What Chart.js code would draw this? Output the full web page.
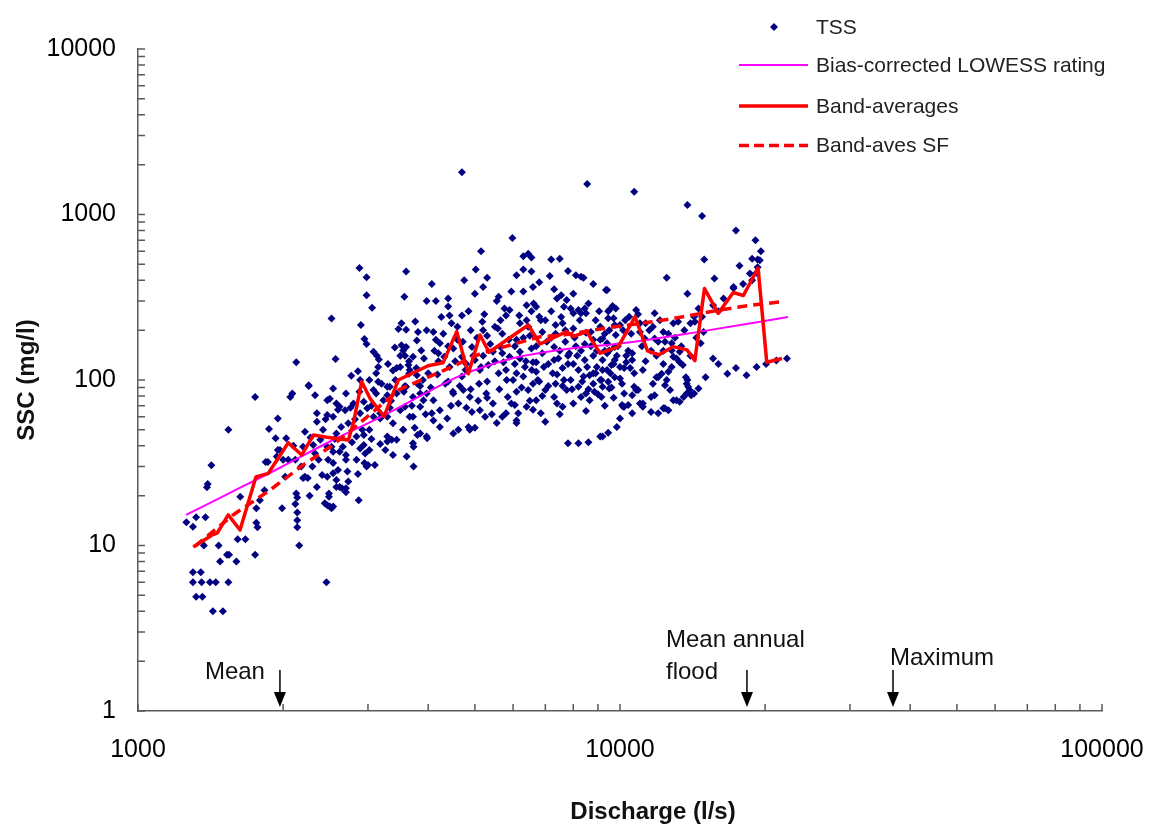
<!DOCTYPE html>
<html>
<head>
<meta charset="utf-8">
<title>SSC rating</title>
<script src="https://cdn.jsdelivr.net/npm/chart.js@4.4.1/dist/chart.umd.min.js"></script>
<style>
  html, body { margin: 0; padding: 0; background: #ffffff; }
  #wrap { width: 1152px; height: 826px; }
</style>
</head>
<body>
<div id="wrap"><canvas id="chart" width="1152" height="826"></canvas></div>
<script>
// TSS samples [discharge l/s, SSC mg/l]
const tssPoints = [
  [1750,79],[1540,50],[1420,30.5],[1390,22.5],[1395,23.5],[1260,13.8],[1300,13],[1320,14.8],[1380,14.8],[1370,10],
  [1470,10],[1530,8.8],[1545,8.8],[1480,8],[1600,8],[1300,6.9],[1350,6.9],[1300,6],[1355,6],[1410,6],
  [1450,6],[1540,6],[1320,4.9],[1360,4.9],[1430,4],[1500,4],[1610,10.9],[1670,10.9],[1750,8.8],[1630,19.7],
  [1760,16.8],[1770,12.9],[1760,13.7],[1790,18.8],[1830,21.6],[1840,32],[1870,50.5],[1930,44.5],[1950,58.5],[1950,37.7],
  [1990,16.8],[2020,26],[2050,33],[2070,79],[2090,83],[2120,17.8],[2140,15.8],[2140,14.2],[2140,12.9],[2160,10],
  [2140,19.5],[2200,25.6],[2200,39.5],[2220,48.6],[2250,25.6],[2270,20],[2260,93],[2330,81],[2350,63],[2370,33],
  [2350,22.6],[2410,26.7],[2460,6],[2440,18],[2490,20.6],[2500,17.2],[2520,16.8],[2500,77],[2520,39.5],[2540,31.5],
  [2580,24.9],[2600,28.6],[2620,22.6],[2650,22.2],[2700,22.2],[2730,24.4],[2870,18.8],[2690,65.7],[2730,54.8],[2580,47.5],
  [2660,39.5],[2700,33],[2840,45.5],[2940,40.5],[3020,37.7],[2950,31.5],[3000,30.6],[2890,38.6],[3020,50],[3120,83],
  [3230,75.5],[3330,91],[3380,54.8],[3500,65.7],[3550,50],[3660,60],[3750,51.5],[3730,39.5],[3800,46.5],[3980,44.5],
  [3910,75.5],[3850,83],[3080,60],[3180,63],[3260,37.7],[3290,42.5],[3440,43.5],[3610,34.5],[3730,30],[2940,74],
  [2890,63],[2990,67.5],[3440,83],[3580,92],
  [2880,475],[2980,418],[3600,453],[2980,325],[3570,318],[3060,273],[2520,235],[2900,215],[3520,220],[3760,226],
  [3470,203],[3600,201],[3810,195],[2950,177],[2980,165],[3790,173],[3410,157],[3520,162],[3550,151],[3080,148],
  [3130,140],[3160,133],[3580,140],[3640,123],[3660,115],[3440,118],[3380,114],[2130,128],[2570,134],[2860,113],
  [2770,106],[2260,92],[2540,89],[3020,100],[2890,100],[3290,91],[3790,107],
  [2700,83],[2470,75.5],[2580,72],[2800,72],[2030,44.5],[1970,37.7],[1860,32],[1940,34.5],[2000,33],[2120,33],
  [2350,56],[2470,61.5],[2540,60],[2620,69],[2310,40.5],[2390,43.5],[2470,39.5],[2540,36.8],[2620,36.8],[2700,35.2],
  [2840,33],[2980,30],[3100,30.6],[2220,26],[2470,26],[2540,27.3],[2580,22.6],[2490,19.7],[2540,17.2],[2470,17.5],
  [2700,21],[2130,20.6],[3380,35.2],[3290,45.5],[3360,43.5],[3180,41],[2940,46.5],[3180,58.5],[3290,60],[3290,81],
  [3080,87],[3150,97.5],
  [4300,190],[4600,175],[4900,200],[5300,185],[5700,190],[6100,175],[6500,185],[6900,195],[7200,180],[7700,170],
  [8100,160],[8700,160],[9300,150],[4400,98],[4700,105],[5100,95],[5600,110],[6000,100],[6300,105],[6800,98],
  [7400,108],[7900,100],[8400,105],[8900,110],[9600,90],[4200,130],[4800,125],[5200,140],[5800,115],[6200,135],
  [6700,128],[7300,132],[7800,140],[8300,150],[8800,140],[9400,145],[4000,110],[4500,85],[5300,78],[6100,85],
  [6900,80],[7600,92],[8600,88],[9300,70],[4800,68],[5700,60],[6600,66],[7500,62],[8500,65],[3900,100],
  [4070,380],[4750,400],[5200,365],[6800,390],[8800,380],[9400,350],[3970,300],[4150,300],[4400,311],[4400,278],
  [5000,332],[5550,300],[5600,318],[5950,342],[6300,342],[6600,365],[7300,354],[7550,325],[7750,304],[8000,332],
  [8200,265],[6400,283],[6700,277],[7400,311],[7650,277],[8450,270],[8000,253],[8300,253],[8500,253],[9500,265],
  [9100,210],[9450,236],[9750,215],[4100,195],[3970,200],[4150,175],[4430,245],[4470,220],[4700,245],[5180,225],
  [5200,200],[5500,210],[5650,230],[5800,245],[5900,265],[6200,220],[6400,230],[6550,260],[6800,241],[7000,230],
  [7350,215],[7600,220],[8000,205],[8500,193],[8800,175],[9200,178],[9500,200],[9800,187],[3870,151],[3720,138],
  [3600,158],[3500,120],[3650,109],[4230,167],[4200,145],[4320,138],[4430,120],[4510,155],[4700,138],[4930,158],
  [5000,132],[5120,115],[5330,123],[5450,148],[5650,158],[5730,128],[5900,138],[6050,125],[6200,148],[6350,120],
  [6550,155],[6600,128],[6700,112],[6900,145],[7100,125],[7300,158],[7450,135],[7600,118],[7850,145],[8000,125],
  [8200,115],[8450,132],[8650,107],[8950,120],[9200,132],[9400,115],[9700,125],[9850,140],[9100,100],[9450,97.5],
  [9750,104],[3600,91],[3800,95],[3720,79],[3580,69],[3850,69],[3970,83],[4100,75.5],[4070,63],[4230,65.7],
  [4380,58.5],[4510,83],[4620,72],[4730,87],[4880,79],[4930,64],[4850,52],[5120,65.7],[5250,60],[5280,83],
  [5450,72],[5550,55],[5800,63],[5850,79],[6050,70.5],[6150,63],[6100,57],[6400,69],[6450,87],[6600,95],
  [6700,75.5],[6850,63],[7000,87],[7300,79],[7350,95],[7600,69],[7750,87],[8000,72],[8200,91],[8300,79],
  [8500,83],[8800,95],[8850,85],[9500,89],[9700,78],[9150,79],[4230,52],[4620,50],[5000,51.5],[6100,55],
  [7000,56],[8650,75.5],[3720,60],[4100,57],[3850,47.5],[3550,50],[3970,45.5],[4510,47.5],[3720,41.5],[4880,50],
  [7800,41.5],[8200,41.5],[8600,42],[9100,45.5],[9450,48],[9850,52],
  [10000,58.5],[10150,69],[10400,70.5],[10900,87],[11150,72],[11700,95],[11900,104],[12600,65.7],
  [9350,350],[9450,260],[9800,270],[9700,236],[10000,215],[10150,200],[10450,241],[10800,265],[11000,220],[11300,220],
  [11800,253],[11700,210],[12300,195],[12900,220],[13200,225],[13800,332],[14000,220],[14300,225],[14800,241],[14900,195],
  [14700,167],[9100,175],[9400,167],[9500,151],[9750,158],[10300,140],[10600,145],[11000,195],[11250,178],[11800,178],
  [12000,170],[12400,170],[12800,167],[12800,151],[12900,138],[13100,135],[13300,128],[13500,123],[13300,148],[12300,125],
  [9200,115],[9150,100],[9200,91],[9600,123],[9750,132],[10000,120],[10300,128],[10600,132],[10200,118],[10500,118],
  [10000,102],[11150,115],[12200,109],[12600,112],[12500,100],[12400,93],[12700,87],[11800,81],[11600,79],[10800,87],
  [10600,81],[10200,83],[10100,70.5],[10200,69],[11000,72],[11150,69],[10600,63],[12000,63],[12400,67.5],[12900,75.5],
  [13300,74],[13700,104],[13800,100],[13750,95],[13850,91],[13950,87],[13750,83],[14050,81],[14250,83],[14550,89],
  [13550,79],[15050,104],[15600,135],[16000,125],[16700,109],[17400,118],[18300,107],[19200,120],[20100,125],[21100,131],
  [22200,135],[15600,283],[16000,260],[16400,311],[17200,358],[18000,380],[18800,400],[14550,270],[14250,241],[9200,45.5],
  [10700,91],[12000,104],[12300,67.5],[11600,64],[13100,75.5],
  [4700,1800],[8550,1530],[5980,720],[5150,600],[6300,560],[6450,580],[6550,550],[5020,465],[5300,415],[6100,430],
  [6300,465],[6550,453],[7200,535],[7500,540],[7150,425],[7800,455],[8100,430],[8300,420],[8400,415],[10700,1370],
  [13800,1140],[14800,980],[17400,800],[19100,700],[19600,600],[18800,540],[19300,535],[19500,530],[14950,535],[17700,490],
  [19300,480],[12500,415],[15700,410],[18600,440],[19200,445],[17200,365],
  [3050,70],[3120,110],[3200,95],[3300,125],[3350,75],[3420,100],[3500,140],[3560,85],[3650,130],[3700,70],
  [3780,118],[3850,92],[3920,135],[3950,62],[3330,68],[3150,120],
  [4050,90],[4120,150],[4180,108],[4260,240],[4340,95],[4400,160],[4460,70],[4550,130],[4600,210],[4650,92],
  [4720,170],[4780,115],[4850,260],[4900,88],[4960,140],[5050,180],[5080,75],[5150,120],[5230,250],[5300,98],
  [5380,165],[5420,62],[5500,130],[5580,205],[5620,88],[5700,145],[5760,270],[5820,100],[5880,175],[5950,72],
  [6050,160],[6100,110],[6180,245],[6250,90],[6300,180],[6380,130],[6450,210],[6500,75],[6560,115],[6620,290],
  [6700,160],[6750,100],[6850,230],[6950,120],[7050,170],[7100,92],[7200,260],[7250,110],[7350,190],[7400,72],
  [7500,150],[7550,240],[7650,100],[7700,200],[7800,125],[7900,270],[7950,88],[8050,180],[8150,140],[8250,230],
  [8350,98],[8450,165],[8550,120],[8600,290],[8700,195],[8800,110],[8900,230],[8950,150],[9000,82],[9050,260],
  [9300,190],[9550,110],[9650,280],[9900,160],[10100,95],[10250,230],[10400,150],[10550,190],[10700,110],[10900,250],
  [11100,160],[11300,130],[11500,200],[11600,150],[11900,140],[12100,230],[12300,150],[12600,190],[12800,120],[13000,180],
  [13400,160],[13600,200],[14000,140],[14400,180],
  [2100,40],[2180,30],[2280,45],[2330,36],[2420,50],[2480,33],[2560,44],[2640,52],[2720,28],[2780,42],
  [2820,58],[2860,27],[2920,50],[2960,36],[3050,44],[2600,66],[2760,68],[2880,85],[2450,58],[2300,30]
];

// Bias-corrected LOWESS rating
const lowessQ = [1258, 1552, 1970, 2502, 3177, 4035, 4656, 5912, 7752, 10000, 14650, 22310];
const lowessC = [15.3, 20.8, 29.5, 42.5, 59.5, 86, 106, 134, 154, 166, 196, 240];

// Band-averages
const bandQ = [1302, 1420, 1460, 1539, 1628, 1757, 1864, 2050, 2186, 2311, 2464, 2732, 2797, 2912, 3029, 3239, 3468,
  4000, 4294, 4584, 4845, 5123, 5349, 6452, 6823, 7752, 7991, 8530, 9090, 9920, 10742, 11404, 12050, 12880, 13770,
  14300, 14970, 15995, 17180, 18030, 19340, 20160, 21680];
const bandC = [9.8, 11.5, 11.9, 15.3, 12.4, 26.0, 27.3, 41.8, 35.2, 46.5, 45.1, 43.4, 54.7, 97.7, 77.5, 60.0, 100,
  122, 127, 196, 109, 187, 147, 215, 165, 196, 183, 196, 145, 159, 241, 150, 142, 159, 152,
  131, 357, 253, 338, 324, 475, 128, 135];

// Band-aves SF
const bandSfQ = [1313, 1575, 1878, 2200, 2539, 2950, 3495, 4300, 5150, 6800, 7615, 9672, 11710, 13510, 16120, 18880, 21660];
const bandSfC = [9.9, 15.3, 21.6, 30.6, 40.5, 58, 88, 114, 145, 182, 187, 209, 225, 241, 265, 284, 297];

// axis ticks
const xMajor = [1000, 10000, 100000];
const yMajor = [1, 10, 100, 1000, 10000];

// flow markers under the plot
const flowLabels = [['Mean'], ['Mean annual', 'flood'], ['Maximum']];
const flowQ = [1970, 18340, 36850];

const legendLabels = ['TSS', 'Bias-corrected LOWESS rating', 'Band-averages', 'Band-aves SF'];

const fontFamily = "'Liberation Sans', Arial, Helvetica, sans-serif";
const axisColor = '#595959';
const textColor = '#111111';

function pairs(qs, cs) {
    return qs.map((q, i) => ({ x: q, y: cs[i] }));
}

function logTicks(majors) {
    let out = [];
    for (let i = 0; i < majors.length - 1; i++) {
        for (let k = 1; k < 10; k++) {
            out.push({ value: majors[i] * k });
        }
    }
    out.push({ value: majors[majors.length - 1] });
    return out;
}

// draws inner tick marks, axis titles, flow arrows and the legend
const decorPlugin = {
    id: 'decor',
    afterDraw(chart) {
        const ctx = chart.ctx;
        const xs = chart.scales.x;
        const ys = chart.scales.y;
        const area = chart.chartArea;
        ctx.save();

        // tick marks pointing into the plot
        ctx.strokeStyle = axisColor;
        ctx.lineWidth = 1.5;
        ctx.beginPath();
        xs.ticks.forEach(t => {
            const px = xs.getPixelForValue(t.value);
            ctx.moveTo(px, area.bottom);
            ctx.lineTo(px, area.bottom - 7);
        });
        ys.ticks.forEach(t => {
            const py = ys.getPixelForValue(t.value);
            ctx.moveTo(area.left, py);
            ctx.lineTo(area.left + 7, py);
        });
        ctx.stroke();

        // axis titles
        ctx.fillStyle = textColor;
        ctx.font = 'bold 24px ' + fontFamily;
        ctx.textAlign = 'center';
        ctx.textBaseline = 'middle';
        ctx.fillText('Discharge (l/s)', 653, 812);
        ctx.save();
        ctx.translate(27, (area.top + area.bottom) / 2);
        ctx.rotate(-Math.PI / 2);
        ctx.fillText('SSC (mg/l)', 0, 0);
        ctx.restore();

        // flow markers: arrow plus label
        const textSpots = [
            { dx: -15, align: 'right', dy: [-39] },
            { dx: -81, align: 'left', dy: [-71, -39] },
            { dx: -3, align: 'left', dy: [-53] }
        ];
        ctx.font = '24px ' + fontFamily;
        flowQ.forEach((q, i) => {
            const px = xs.getPixelForValue(q);
            const top = area.bottom - 41;
            const tip = area.bottom - 4;
            ctx.strokeStyle = '#000000';
            ctx.lineWidth = 1.5;
            ctx.beginPath();
            ctx.moveTo(px, top);
            ctx.lineTo(px, tip - 12);
            ctx.stroke();
            ctx.fillStyle = '#000000';
            ctx.beginPath();
            ctx.moveTo(px - 6, tip - 15);
            ctx.lineTo(px + 6, tip - 15);
            ctx.lineTo(px, tip);
            ctx.closePath();
            ctx.fill();
            const spot = textSpots[i];
            ctx.fillStyle = textColor;
            ctx.textAlign = spot.align;
            flowLabels[i].forEach((line, j) => {
                ctx.fillText(line, px + spot.dx, area.bottom + spot.dy[j]);
            });
        });

        // legend
        const rowsY = [27, 65, 106, 145.5];
        const lx0 = 739, lx1 = 808, tx = 816;
        ctx.font = '21px ' + fontFamily;
        ctx.textAlign = 'left';
        ctx.textBaseline = 'middle';
        // TSS diamond
        ctx.fillStyle = '#000080';
        ctx.beginPath();
        ctx.moveTo(774, rowsY[0] - 4);
        ctx.lineTo(774 + 4, rowsY[0]);
        ctx.lineTo(774, rowsY[0] + 4);
        ctx.lineTo(774 - 4, rowsY[0]);
        ctx.closePath();
        ctx.fill();
        const lineStyles = [
            null,
            { color: '#ff00ff', width: 2, dash: [] },
            { color: '#ff0000', width: 3.5, dash: [] },
            { color: '#ff0000', width: 3.5, dash: [10, 5] }
        ];
        lineStyles.forEach((st, i) => {
            if (!st) return;
            ctx.strokeStyle = st.color;
            ctx.lineWidth = st.width;
            ctx.setLineDash(st.dash);
            ctx.beginPath();
            ctx.moveTo(lx0, rowsY[i]);
            ctx.lineTo(lx1, rowsY[i]);
            ctx.stroke();
        });
        ctx.setLineDash([]);
        ctx.fillStyle = '#222222';
        legendLabels.forEach((label, i) => {
            ctx.fillText(label, tx, rowsY[i] + 1);
        });

        ctx.restore();
    }
};

const tickFont = { family: fontFamily, size: 25 };

new Chart(document.getElementById('chart'), {
    type: 'scatter',
    data: {
        datasets: [
            {
                label: 'Band-averages',
                data: pairs(bandQ, bandC),
                showLine: true,
                borderColor: '#ff0000',
                borderWidth: 3.5,
                borderJoinStyle: 'round',
                pointRadius: 0,
                order: 0
            },
            {
                label: 'Band-aves SF',
                data: pairs(bandSfQ, bandSfC),
                showLine: true,
                borderColor: '#ff0000',
                borderWidth: 3.5,
                borderDash: [10, 6],
                pointRadius: 0,
                order: 1
            },
            {
                label: 'Bias-corrected LOWESS rating',
                data: pairs(lowessQ, lowessC),
                showLine: true,
                borderColor: '#ff00ff',
                borderWidth: 2,
                cubicInterpolationMode: 'monotone',
                pointRadius: 0,
                order: 2
            },
            {
                label: 'TSS',
                data: tssPoints.map(p => ({ x: p[0], y: p[1] })),
                showLine: false,
                pointStyle: 'rectRot',
                pointRadius: 4,
                pointBorderWidth: 0,
                backgroundColor: '#000080',
                borderColor: '#000080',
                order: 3
            }
        ]
    },
    options: {
        responsive: false,
        animation: false,
        devicePixelRatio: 1,
        layout: { padding: { top: 49, right: 50, bottom: 0, left: 0 } },
        plugins: {
            legend: { display: false },
            tooltip: { enabled: false }
        },
        scales: {
            x: {
                type: 'logarithmic',
                position: 'bottom',
                min: 1000,
                max: 100000,
                afterBuildTicks: scale => { scale.ticks = logTicks(xMajor); },
                afterFit: scale => {
                    scale.height = 115;
                    scale.paddingLeft = 0;
                    scale.paddingRight = 0;
                },
                grid: { display: false, drawTicks: false },
                border: { display: true, color: axisColor, width: 1.5 },
                ticks: {
                    autoSkip: false,
                    maxRotation: 0,
                    minRotation: 0,
                    padding: 24,
                    color: '#000000',
                    font: tickFont,
                    callback: value => xMajor.includes(value) ? String(value) : ''
                }
            },
            y: {
                type: 'logarithmic',
                position: 'left',
                min: 1,
                max: 10000,
                afterBuildTicks: scale => { scale.ticks = logTicks(yMajor); },
                afterFit: scale => {
                    scale.width = 138;
                    scale.paddingTop = 0;
                    scale.paddingBottom = 0;
                },
                grid: { display: false, drawTicks: false },
                border: { display: true, color: axisColor, width: 1.5 },
                ticks: {
                    autoSkip: false,
                    padding: 22,
                    color: '#000000',
                    font: tickFont,
                    callback: value => yMajor.includes(value) ? String(value) : ''
                }
            }
        }
    },
    plugins: [decorPlugin]
});
</script>
</body>
</html>
